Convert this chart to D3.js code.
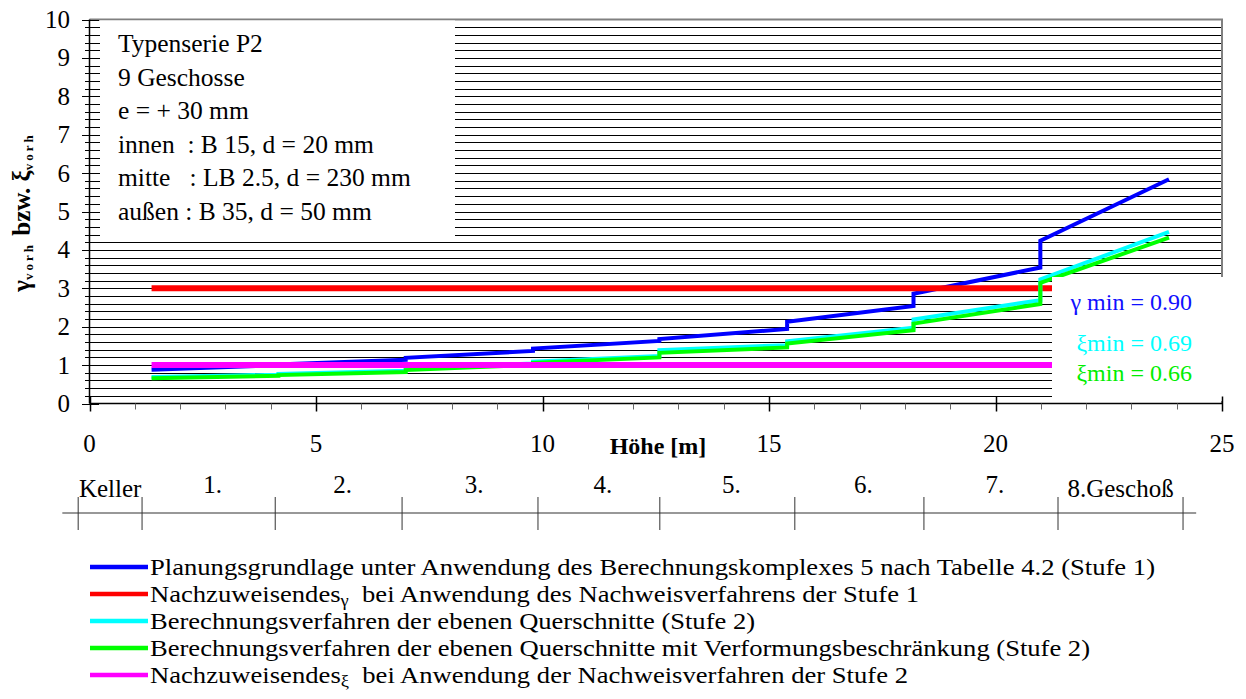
<!DOCTYPE html>
<html>
<head>
<meta charset="utf-8">
<script src="https://cdn.jsdelivr.net/npm/d3@7"></script>
<style>
  html, body { margin: 0; padding: 0; background: #fff; }
  svg { display: block; font-family: "Liberation Serif", "Times New Roman", serif; }
  text { white-space: pre; }
</style>
</head>
<body>
<svg id="chart" width="1246" height="699"></svg>
<script>
// Storey boundaries along the building height [m]
const storeyBounds = [1.37, 4.17, 6.98, 9.79, 12.58, 15.40, 18.19, 20.99, 23.83];

// Per-storey values at the lower and upper end of each storey
const planStart  = [0.88, 1.02, 1.19, 1.43, 1.68, 2.13, 2.86, 4.24];
const planEnd    = [1.00, 1.14, 1.37, 1.63, 1.94, 2.54, 3.54, 5.84];
const ebenStart  = [0.69, 0.77, 0.90, 1.09, 1.39, 1.62, 2.19, 3.23];
const ebenEnd    = [0.75, 0.85, 1.04, 1.24, 1.52, 1.97, 2.69, 4.47];
const verfStart  = [0.66, 0.74, 0.87, 1.06, 1.32, 1.56, 2.08, 3.14];
const verfEnd    = [0.72, 0.82, 1.01, 1.20, 1.46, 1.91, 2.59, 4.32];

// Required safety values (constant over the height)
const gammaReq = 3.0;
const xiReq = 1.0;

// Axis ticks
const xTickValues = [0, 5, 10, 15, 20, 25];
const yTickValues = [0, 1, 2, 3, 4, 5, 6, 7, 8, 9, 10];

// Storey scale below the chart
const storeyTicks = [-0.25, 1.16, 4.10, 6.90, 9.90, 12.59, 15.57, 18.42, 21.38, 24.14];
const storeyLabels = ["Keller", "1.", "2.", "3.", "4.", "5.", "6.", "7.", "8.Geschoß"];

// Info box and minimum values
const infoLines = [
  "Typenserie P2",
  "9 Geschosse",
  "e = + 30 mm",
  "innen  : B 15, d = 20 mm",
  "mitte   : LB 2.5, d = 230 mm",
  "außen : B 35, d = 50 mm"
];
const minLabels = [
  { text: "γ min = 0.90", color: "#1010ff" },
  { text: "ξmin = 0.69", color: "#00ffff" },
  { text: "ξmin = 0.66", color: "#00ee00" }
];

const seriesColors = {
  plan: "#0000ff",
  gamma: "#ff0000",
  eben: "#00ffff",
  verf: "#00ff00",
  xi: "#ff00ff"
};

const svg = d3.select("#chart");
const plotLeft = 89.5, plotRight = 1222, plotTop = 19.5, plotBottom = 403.5;

const x = d3.scaleLinear().domain([0, 25]).range([plotLeft, plotRight]);
const y = d3.scaleLinear().domain([0, 10]).range([plotBottom, plotTop]);

// horizontal grid every 0.2
const gridVals = d3.range(1, 50).map(i => i * 0.2);
svg.append("g")
  .selectAll("line")
  .data(gridVals)
  .join("line")
  .attr("x1", plotLeft).attr("x2", plotRight)
  .attr("y1", d => Math.round(y(d)) + 0.5).attr("y2", d => Math.round(y(d)) + 0.5)
  .attr("stroke", "#000").attr("stroke-width", 1);

// plot frame (top and right)
svg.append("path")
  .attr("d", `M${plotLeft},${plotTop}H${plotRight}V${plotBottom}`)
  .attr("fill", "none").attr("stroke", "#808080").attr("stroke-width", 2);

// build stepped series from per-storey start/end values
function stepped(starts, ends) {
  const pts = [];
  starts.forEach((s, i) => {
    pts.push([storeyBounds[i], s]);
    pts.push([storeyBounds[i + 1], ends[i]]);
  });
  return pts;
}
const line = d3.line().x(d => x(d[0])).y(d => y(d[1]));
const xFirst = storeyBounds[0], xLast = storeyBounds[storeyBounds.length - 1];

const plotG = svg.append("g").attr("fill", "none").attr("stroke-linejoin", "miter");
plotG.append("path").attr("d", line(stepped(planStart, planEnd)))
  .attr("stroke", seriesColors.plan).attr("stroke-width", 4);
plotG.append("path").attr("d", line([[xFirst, gammaReq], [xLast, gammaReq]]))
  .attr("stroke", seriesColors.gamma).attr("stroke-width", 6);
plotG.append("path").attr("d", line(stepped(ebenStart, ebenEnd)))
  .attr("stroke", seriesColors.eben).attr("stroke-width", 4);
plotG.append("path").attr("d", line(stepped(verfStart, verfEnd)))
  .attr("stroke", seriesColors.verf).attr("stroke-width", 4);
plotG.append("path").attr("d", line([[xFirst, xiReq], [xLast, xiReq]]))
  .attr("stroke", seriesColors.xi).attr("stroke-width", 6);

// info box (top left)
svg.append("rect").attr("x", 100).attr("y", plotTop + 1).attr("width", 355).attr("height", 218).attr("fill", "#fff");
svg.append("g").selectAll("text").data(infoLines).join("text")
  .attr("x", 118).attr("y", (d, i) => 52 + i * 33.5)
  .attr("font-size", 25.5).attr("fill", "#000")
  .text(d => d);

// minimum values box (right)
svg.append("rect").attr("x", 1052).attr("y", 277).attr("width", 190).attr("height", 124).attr("fill", "#fff");
svg.append("g").selectAll("text").data(minLabels).join("text")
  .attr("x", 1192).attr("y", (d, i) => [310, 351, 381][i])
  .attr("text-anchor", "end").attr("font-size", 24)
  .attr("fill", d => d.color)
  .text(d => d.text);

// y axis: crossing ticks, minor every 0.2
const yAxisG = svg.append("g").attr("stroke", "#000");
yAxisG.append("line").attr("x1", plotLeft).attr("x2", plotLeft).attr("y1", plotTop).attr("y2", plotBottom).attr("stroke-width", 1.5);
yAxisG.selectAll("line.minor").data(d3.range(0, 51).map(i => i * 0.2)).join("line")
  .attr("class", "minor")
  .attr("x1", d => Math.abs(d - Math.round(d)) < 1e-6 ? 82 : 85)
  .attr("x2", d => Math.abs(d - Math.round(d)) < 1e-6 ? 99 : 96)
  .attr("y1", d => Math.round(y(d)) + 0.5).attr("y2", d => Math.round(y(d)) + 0.5)
  .attr("stroke-width", 1);
svg.append("g").selectAll("text").data(yTickValues).join("text")
  .attr("x", 70).attr("y", d => y(d) + 8.5)
  .attr("text-anchor", "end").attr("font-size", 25)
  .text(d => d);

// x axis with minor ticks per metre
const xAxisG = svg.append("g");
xAxisG.append("line").attr("x1", plotLeft).attr("x2", plotRight).attr("y1", plotBottom).attr("y2", plotBottom)
  .attr("stroke", "#000").attr("stroke-width", 1.5);
xAxisG.selectAll("line.tick").data(d3.range(0, 26)).join("line")
  .attr("class", "tick")
  .attr("x1", d => Math.round(x(d)) + 0.5).attr("x2", d => Math.round(x(d)) + 0.5)
  .attr("y1", d => d % 5 === 0 ? plotBottom - 7 : plotBottom)
  .attr("y2", d => d % 5 === 0 ? plotBottom + 8 : plotBottom + 6)
  .attr("stroke", d => d % 5 === 0 ? "#000" : "#666")
  .attr("stroke-width", d => d % 5 === 0 ? 1.5 : 1);
svg.append("g").selectAll("text").data(xTickValues).join("text")
  .attr("x", d => x(d)).attr("y", 452)
  .attr("text-anchor", "middle").attr("font-size", 25)
  .text(d => d);
svg.append("text").attr("x", 658).attr("y", 454)
  .attr("text-anchor", "middle").attr("font-size", 24).attr("font-weight", "bold")
  .text("Höhe [m]");

// y axis title
const yTitle = svg.append("text")
  .attr("transform", "translate(30,212) rotate(-90)")
  .attr("text-anchor", "middle").attr("font-size", 25).attr("font-weight", "bold");
yTitle.append("tspan").text("γ");
yTitle.append("tspan").attr("font-size", 13).attr("dy", 3).attr("letter-spacing", 3).text("vorh");
yTitle.append("tspan").attr("dy", -3).text(" bzw. ξ");
yTitle.append("tspan").attr("font-size", 13).attr("dy", 3).attr("letter-spacing", 3).text("vorh");

// storey scale
const storeyG = svg.append("g").attr("stroke", "#333");
storeyG.append("line").attr("x1", x(-0.6)).attr("x2", x(24.43)).attr("y1", 513).attr("y2", 513).attr("stroke-width", 1.2);
storeyG.selectAll("line.st").data(storeyTicks).join("line")
  .attr("class", "st")
  .attr("x1", d => x(d)).attr("x2", d => x(d))
  .attr("y1", 497).attr("y2", 530).attr("stroke-width", 1);
svg.append("g").selectAll("text").data(storeyLabels).join("text")
  .attr("x", (d, i) => (x(storeyTicks[i]) + x(storeyTicks[i + 1])) / 2 + (i > 0 && i < storeyLabels.length - 1 ? 4 : 0))
  .attr("y", (d, i) => (i === 0 || i === storeyLabels.length - 1) ? 497 : 493)
  .attr("text-anchor", "middle").attr("font-size", 25)
  .text(d => d);

// legend
const legendItems = [
  { color: seriesColors.plan, width: 1005, parts: ["Planungsgrundlage unter Anwendung des Berechnungskomplexes 5 nach Tabelle 4.2 (Stufe 1)"] },
  { color: seriesColors.gamma, width: 769, parts: ["Nachzuweisendes", "γ", "  bei Anwendung des Nachweisverfahrens der Stufe 1"] },
  { color: seriesColors.eben, width: 605, parts: ["Berechnungsverfahren der ebenen Querschnitte (Stufe 2)"] },
  { color: seriesColors.verf, width: 940, parts: ["Berechnungsverfahren der ebenen Querschnitte mit Verformungsbeschränkung (Stufe 2)"] },
  { color: seriesColors.xi, width: 758, parts: ["Nachzuweisendes", "ξ", "  bei Anwendung der Nachweisverfahren der Stufe 2"] }
];
const legendG = svg.append("g");
legendItems.forEach((item, i) => {
  const cy = 567 + i * 27;
  legendG.append("line").attr("x1", 90).attr("x2", 148).attr("y1", cy).attr("y2", cy)
    .attr("stroke", item.color).attr("stroke-width", 4.5);
  const t = legendG.append("text").attr("x", 150).attr("y", cy + 8).attr("font-size", 23)
    .attr("textLength", item.width).attr("lengthAdjust", "spacingAndGlyphs");
  if (item.parts.length === 1) {
    t.text(item.parts[0]);
  } else {
    t.append("tspan").text(item.parts[0]);
    t.append("tspan").attr("font-size", 16).attr("dy", 4).text(item.parts[1]);
    t.append("tspan").attr("dy", -4).text(item.parts[2]);
  }
});
</script>
</body>
</html>
